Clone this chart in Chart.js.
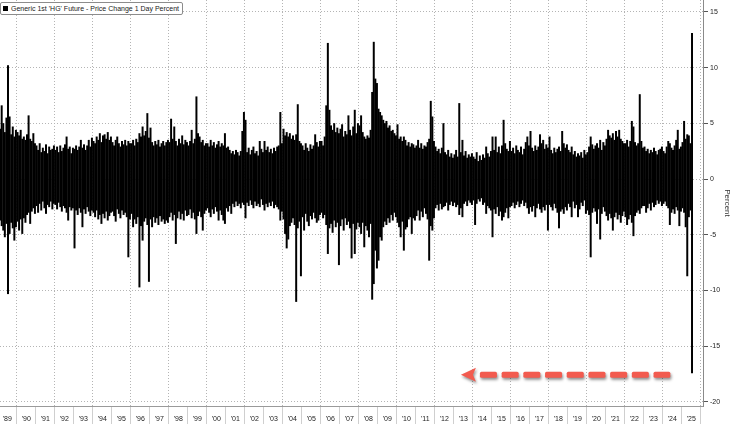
<!DOCTYPE html>
<html><head><meta charset="utf-8">
<script src="https://cdn.jsdelivr.net/npm/chart.js@4/dist/chart.umd.min.js"></script>
<style>
html,body{margin:0;padding:0;background:#fff;}
#wrap{position:relative;width:732px;height:424px;}
#legend{position:absolute;left:0;top:2px;height:11px;border:1px solid #8c8c8c;border-radius:2px;background:#fff;
  font:7px "Liberation Sans",Arial,sans-serif;color:#222;line-height:11px;padding:0 3px 0 2px;white-space:nowrap;}
#legend .sw{display:inline-block;width:5px;height:5px;background:#000;margin-right:3px;vertical-align:middle;position:relative;top:-1px;}
</style></head>
<body><div id="wrap"><canvas id="c" width="732" height="424"></canvas>
<div id="legend"><span class="sw"></span>Generic 1st 'HG' Future - Price Change 1 Day Percent</div></div>
<script>
// Monthly range (lowest / highest) of the daily % change, Feb 1989 - Jul 2025
const startYear = 1989, startMonth = 2;
const monthHigh = [
 4.5,6.6,5.0,4.2,5.5,10.2,5.6,4.0,4.7,3.8,4.4,            // 1989 (Feb-Dec)
 4.2,3.9,4.4,3.6,3.8,3.5,4.0,5.7,3.6,3.4,4.1,3.2,         // 1990
 3.0,2.6,3.2,2.4,2.8,2.5,3.1,2.3,2.9,2.6,2.7,3.0,         // 1991
 2.6,2.9,2.4,3.0,2.5,2.8,3.1,3.8,2.7,2.9,2.3,2.8,         // 1992
 2.7,3.0,2.6,2.9,3.5,2.8,3.1,2.6,3.0,3.5,2.9,3.7,         // 1993
 3.4,3.2,3.8,3.5,4.1,3.3,3.9,4.0,3.6,4.2,3.5,3.8,         // 1994
 3.3,3.0,3.5,3.8,3.2,2.9,3.4,3.1,3.5,3.0,3.4,3.2,         // 1995
 3.2,3.5,3.0,3.6,3.3,4.1,3.8,4.7,3.9,4.3,5.9,3.7,         // 1996
 4.6,3.3,3.0,3.4,3.1,3.5,2.9,3.2,3.4,3.0,3.3,3.5,         // 1997
 3.3,5.4,3.6,4.7,3.4,3.0,3.6,3.2,3.9,3.1,3.5,3.3,         // 1998
 3.0,3.4,4.4,3.2,3.6,7.4,4.1,3.8,3.3,3.5,3.0,3.2,         // 1999
 3.2,2.9,3.5,3.0,3.3,2.8,3.1,3.4,2.9,3.2,3.0,4.1,         // 2000
 2.8,2.9,2.6,2.3,2.5,2.2,2.6,2.4,2.1,2.5,4.3,6.0,         // 2001
 5.3,2.4,2.8,2.2,2.6,2.9,2.3,2.5,2.1,3.4,2.7,2.4,         // 2002
 3.4,2.6,2.9,2.4,2.7,2.3,2.8,2.5,2.9,3.0,6.0,3.2,         // 2003
 4.5,3.9,4.2,3.8,4.1,3.6,3.9,3.5,4.0,6.7,3.4,3.2,         // 2004
 3.0,2.6,3.2,2.8,2.5,3.1,2.7,3.0,4.0,3.3,2.9,3.4,         // 2005
 3.4,3.0,3.8,6.6,12.2,6.2,4.8,4.4,5.0,4.2,4.6,4.1,        // 2006
 4.5,4.9,3.8,4.3,4.0,5.7,4.4,3.9,4.7,6.2,4.1,5.0,         // 2007
 4.8,5.7,4.2,3.8,3.6,3.9,3.7,4.4,7.8,12.3,9.0,8.6,        // 2008
 6.3,6.0,5.7,5.3,5.0,5.2,4.6,4.8,4.3,4.4,4.1,3.9,         // 2009
 4.9,3.6,3.8,3.4,3.8,3.5,3.0,3.3,2.9,3.2,3.1,2.8,         // 2010
 3.0,3.5,2.8,3.2,2.7,3.0,2.9,3.3,3.6,7.0,5.6,3.4,         // 2011
 2.9,2.5,2.7,2.3,2.8,5.0,2.4,2.2,2.6,2.0,2.3,1.9,         // 2012
 2.2,2.6,2.0,6.8,2.4,3.5,2.1,2.5,1.9,2.2,2.0,2.3,         // 2013
 2.0,1.8,2.4,1.6,2.1,1.7,2.2,1.9,2.9,2.3,2.0,2.5,         // 2014
 3.8,2.6,3.8,2.4,2.9,2.3,3.0,5.3,3.2,2.7,2.5,3.4,         // 2015
 2.5,2.8,2.3,3.0,2.6,2.4,2.9,2.2,2.7,3.3,3.8,3.0,         // 2016
 4.3,2.8,2.5,3.0,2.6,2.9,4.0,3.2,3.5,2.7,3.1,2.8,         // 2017
 3.8,2.6,2.3,2.8,2.4,2.7,2.9,2.5,4.3,3.2,2.8,3.1,         // 2018
 2.6,2.4,2.9,2.2,2.5,2.0,2.3,2.1,2.4,1.9,2.6,2.2,         // 2019
 2.4,2.9,3.8,3.1,2.7,3.0,3.2,2.8,3.5,2.6,3.3,3.0,         // 2020
 3.6,4.4,3.9,3.7,4.1,3.5,4.3,3.8,4.4,3.6,3.4,3.2,         // 2021
 3.2,3.5,2.9,3.4,5.2,4.7,3.3,3.0,3.2,7.6,3.4,2.8,         // 2022
 2.9,2.5,2.7,2.3,2.6,2.4,2.8,2.5,2.2,2.6,2.7,2.9,         // 2023
 2.5,2.3,2.9,3.4,3.2,2.8,2.6,3.0,3.5,4.4,2.7,2.9,         // 2024
 3.3,5.2,3.6,4.0,3.9,3.2,13.1                             // 2025 (Jan-Jul)
];
const monthLow = [
 -3.7,-4.2,-4.6,-5.2,-4.0,-10.3,-4.9,-3.9,-4.4,-5.5,-4.3,           // 1989
 -3.8,-4.6,-3.6,-4.9,-3.5,-3.9,-3.2,-3.0,-4.0,-2.9,-2.6,-3.1,       // 1990
 -2.4,-3.0,-2.2,-2.8,-2.0,-2.6,-3.1,-2.3,-2.5,-2.0,-2.7,-2.2,       // 1991
 -2.3,-2.7,-2.1,-2.5,-2.9,-2.4,-2.6,-3.0,-3.7,-2.5,-2.8,-2.6,       // 1992
 -6.2,-2.8,-3.2,-2.6,-3.0,-4.3,-2.7,-3.1,-2.5,-2.9,-3.3,-2.8,       // 1993
 -3.0,-3.4,-2.8,-3.6,-3.2,-4.0,-3.1,-3.5,-2.9,-3.7,-3.3,-3.0,       // 1994
 -2.9,-3.3,-3.8,-2.7,-3.1,-3.5,-2.8,-3.2,-3.0,-3.4,-7.0,-3.6,       // 1995
 -3.1,-4.3,-3.6,-4.0,-3.4,-9.7,-4.2,-5.5,-3.8,-3.5,-4.1,-9.2,       // 1996
 -3.6,-4.3,-3.4,-3.9,-3.5,-4.1,-3.3,-3.8,-3.6,-4.0,-3.7,-3.9,       // 1997
 -3.4,-3.0,-3.7,-3.2,-5.8,-3.5,-2.9,-3.6,-3.1,-3.7,-2.8,-3.3,       // 1998
 -3.2,-2.7,-3.5,-3.0,-3.6,-4.9,-3.3,-2.9,-3.4,-4.6,-3.1,-2.8,       // 1999
 -2.6,-3.0,-3.4,-2.7,-3.1,-2.5,-2.9,-3.7,-2.8,-3.2,-3.7,-4.0,       // 2000
 -2.6,-2.9,-2.4,-3.1,-2.2,-2.5,-2.0,-2.4,-2.2,-2.6,-2.1,-2.3,       // 2001
 -3.5,-2.1,-2.4,-1.9,-2.3,-2.6,-2.0,-2.4,-2.2,-2.5,-1.8,-2.3,       // 2002
 -2.8,-2.2,-2.5,-2.1,-2.4,-2.0,-2.6,-2.3,-2.5,-2.7,-3.7,-2.9,       // 2003
 -3.6,-4.9,-6.2,-5.4,-4.2,-3.9,-3.5,-4.1,-11.0,-4.4,-3.8,-8.7,      // 2004
 -3.4,-4.6,-3.1,-3.8,-4.2,-3.3,-3.6,-3.0,-3.5,-3.9,-3.7,-3.2,       // 2005
 -3.0,-3.5,-3.2,-4.1,-6.7,-4.4,-4.0,-4.8,-3.7,-4.3,-3.9,-7.7,       // 2006
 -4.2,-3.6,-4.6,-3.5,-4.1,-3.8,-4.4,-7.1,-4.0,-6.7,-4.5,-3.9,       // 2007
 -4.3,-4.9,-3.9,-6.1,-4.2,-4.6,-5.2,-4.0,-10.8,-9.4,-6.4,-8.0,      // 2008
 -7.3,-5.2,-5.5,-4.3,-3.8,-4.1,-3.5,-3.9,-3.2,-3.7,-3.0,-3.4,       // 2009
 -3.9,-4.3,-5.2,-3.8,-6.4,-4.5,-4.3,-3.6,-3.4,-4.9,-3.5,-3.7,       // 2010
 -3.3,-2.8,-3.7,-2.9,-3.4,-2.6,-3.1,-3.6,-7.3,-4.2,-4.6,-3.5,       // 2011
 -2.6,-2.3,-2.8,-2.2,-2.7,-2.5,-2.4,-2.1,-2.8,-2.3,-2.0,-2.4,       // 2012
 -2.1,-2.5,-2.3,-3.2,-2.6,-3.4,-2.2,-2.0,-2.4,-1.9,-2.1,-2.3,       // 2013
 -1.9,-4.1,-2.2,-1.8,-2.0,-1.7,-2.3,-2.1,-3.1,-2.4,-2.6,-2.8,       // 2014
 -5.2,-2.7,-3.1,-2.5,-3.3,-2.9,-3.7,-3.4,-3.0,-2.6,-3.5,-2.5,       // 2015
 -2.4,-2.1,-2.6,-2.3,-2.0,-2.5,-2.2,-1.9,-2.4,-2.1,-2.6,-3.1,       // 2016
 -2.5,-2.9,-2.4,-3.4,-2.6,-2.2,-2.7,-3.0,-2.5,-2.8,-2.3,-4.6,       // 2017
 -2.3,-2.5,-2.8,-2.2,-2.6,-3.0,-4.4,-2.9,-2.7,-3.1,-2.5,-2.8,       // 2018
 -2.2,-2.5,-3.4,-2.0,-2.6,-2.3,-3.4,-2.7,-2.1,-2.4,-1.9,-3.1,       // 2019
 -2.8,-3.2,-7.0,-3.0,-2.6,-2.9,-4.0,-2.7,-5.4,-3.1,-2.5,-2.9,       // 2020
 -3.3,-3.7,-3.1,-3.5,-4.6,-3.4,-3.0,-3.6,-3.2,-3.9,-3.3,-2.9,       // 2021
 -3.4,-4.1,-3.6,-3.2,-3.9,-5.1,-3.3,-3.0,-2.8,-3.1,-2.6,-2.4,       // 2022
 -2.4,-3.0,-2.6,-2.2,-2.8,-2.1,-2.5,-2.3,-1.9,-2.2,-2.0,-2.4,       // 2023
 -2.2,-2.0,-2.4,-2.6,-4.1,-3.0,-2.7,-3.1,-2.5,-2.8,-4.2,-2.9,       // 2024
 -2.6,-3.0,-4.3,-8.7,-3.4,-2.8,-17.4                                // 2025
];
const yearLabels = ["'89","'90","'91","'92","'93","'94","'95","'96","'97","'98","'99","'00","'01","'02","'03","'04","'05","'06","'07","'08","'09","'10","'11","'12","'13","'14","'15","'16","'17","'18","'19","'20","'21","'22","'23","'24","'25"];
const yTicks = [-20,-15,-10,-5,0,5,10,15];
const xMin = 1989.12, xMax = 2026.12, yMin = -20.36, yMax = 16.07;
// arrow annotation (points at the July 2025 low)
const arrowLevel = -17.55, arrowFrom = 2013.38, arrowTo = 2024.4;

const points = monthHigh.map((h, i) => {
  const m = startMonth - 1 + i;
  return { x: startYear + (m + 0.5) / 12, y: [monthLow[i], h] };
});
const xTickVals = [];
for (let k = 0; k < yearLabels.length; k++) {
  xTickVals.push(1989 + k + 0.5);
  xTickVals.push(1990 + k);
}
const FONT = '"Liberation Sans", Arial, sans-serif';

const arrowPlugin = {
  id: 'arrow',
  afterDraw(chart) {
    const { ctx, scales: { x, y } } = chart;
    const py = y.getPixelForValue(arrowLevel);
    const x0 = x.getPixelForValue(arrowFrom);
    const x1 = x.getPixelForValue(arrowTo);
    ctx.save();
    ctx.shadowColor = 'rgba(0,0,0,0.45)';
    ctx.shadowBlur = 3; ctx.shadowOffsetX = 1; ctx.shadowOffsetY = 2;
    ctx.fillStyle = '#f25b4f';
    ctx.beginPath();
    ctx.moveTo(x0, py);
    ctx.lineTo(x0 + 15, py - 7);
    ctx.lineTo(x0 + 12, py);
    ctx.lineTo(x0 + 15, py + 7);
    ctx.closePath();
    ctx.fill();
    let sx = x0 + 19;
    while (sx < x1 - 2) {
      const ex = Math.min(sx + 17, x1);
      ctx.beginPath();
      if (ctx.roundRect) ctx.roundRect(sx, py - 3, ex - sx, 6, 1.5); else ctx.rect(sx, py - 3, ex - sx, 6);
      ctx.fill();
      sx = ex + 4.7;
    }
    ctx.restore();
  }
};

new Chart(document.getElementById('c'), {
  type: 'bar',
  data: { datasets: [{
    data: points,
    backgroundColor: '#000',
    borderWidth: 0,
    barPercentage: 1,
    categoryPercentage: 1,
    inflateAmount: 0.2
  }]},
  options: {
    responsive: false,
    animation: false,
    events: [],
    layout: { padding: 0 },
    plugins: { legend: { display: false }, tooltip: { enabled: false } },
    scales: {
      x: {
        type: 'linear', position: 'bottom', min: xMin, max: xMax, offset: false,
        grid: {
          offset: false, lineWidth: 1, drawTicks: true, tickLength: 18, tickWidth: 1,
          color: c => (Number.isInteger(c.tick.value) && c.tick.value % 2 === 0) ? '#b4b4b4' : 'rgba(0,0,0,0)',
          tickColor: c => Number.isInteger(c.tick.value) ? '#cfcfcf' : 'rgba(0,0,0,0)'
        },
        border: { display: true, color: '#9a9a9a', dash: [1, 2] },
        ticks: {
          autoSkip: false, maxRotation: 0, minRotation: 0, padding: -9,
          color: '#222', font: { family: FONT, size: 7 },
          callback: v => Number.isInteger(v) ? '' : yearLabels[Math.floor(v) - 1989]
        },
        afterBuildTicks: s => { s.ticks = xTickVals.slice().sort((a, b) => a - b).map(v => ({ value: v })); },
        afterFit: s => { s.height = 18; s.paddingLeft = 0; s.paddingRight = 0; }
      },
      y: {
        type: 'linear', position: 'right', min: yMin, max: yMax,
        grid: { color: '#b4b4b4', lineWidth: 1, drawTicks: true, tickLength: 5, tickColor: '#555' },
        border: { display: true, color: '#8a8a8a', dash: [1, 2] },
        ticks: { padding: 2, color: '#222', font: { family: FONT, size: 7 }, callback: v => String(v) },
        title: { display: true, text: 'Percent', color: '#333', font: { family: FONT, size: 8 }, padding: 0 },
        afterBuildTicks: s => { s.ticks = yTicks.map(v => ({ value: v })); },
        afterFit: s => { s.width = 29; s.paddingTop = 0; s.paddingBottom = 0; }
      }
    }
  },
  plugins: [arrowPlugin]
});
</script></body></html>
